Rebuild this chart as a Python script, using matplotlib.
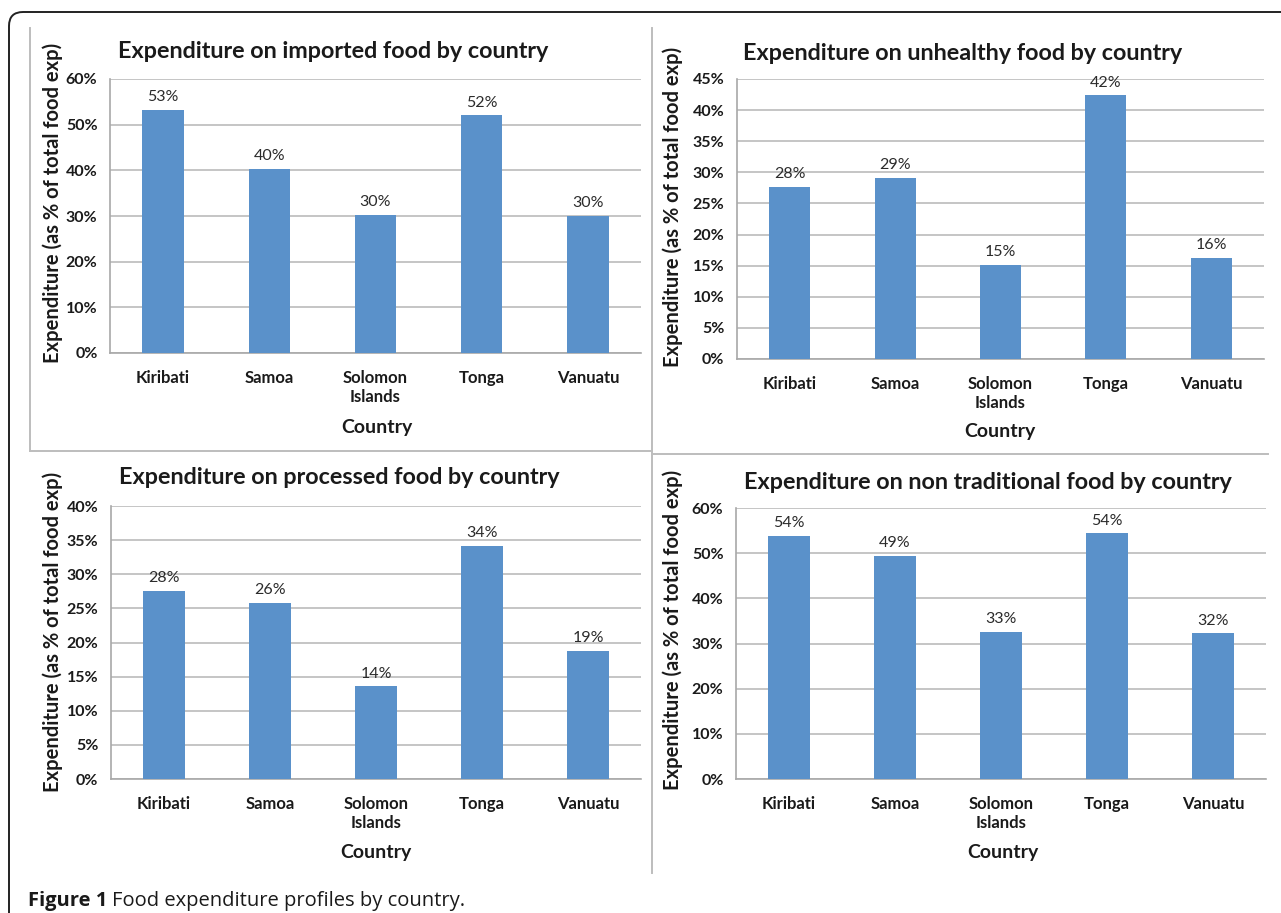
import matplotlib
matplotlib.use("Agg")
import matplotlib.pyplot as plt
from matplotlib.lines import Line2D
from matplotlib.patches import FancyBboxPatch
from matplotlib.ticker import PercentFormatter, MultipleLocator

W, H = 1281, 913

countries = ["Kiribati", "Samoa", "Solomon\nIslands", "Tonga", "Vanuatu"]

imported = [53.2, 40.4, 30.3, 52.1, 30.1]
unhealthy = [27.7, 29.1, 15.1, 42.4, 16.3]
processed = [27.6, 25.8, 13.6, 34.2, 18.8]
non_traditional = [53.8, 49.4, 32.6, 54.4, 32.3]

titles = [
    "Expenditure on imported food by country",
    "Expenditure on unhealthy food by country",
    "Expenditure on processed food by country",
    "Expenditure on non traditional food by country",
]
y_max = [60, 45, 40, 60]
y_step = [10, 5, 5, 10]

BAR = "#5A91CA"
GRID = "#C0C0C0"
TXT = "#1a1a1a"
FONT = "Lato"

plt.rcParams["font.family"] = [FONT, "DejaVu Sans"]


def fx(x):
    return x / W


def fy(y):
    return 1 - y / H


def rect(x0, x1, y0, y1):
    return [fx(x0), fy(y1), fx(x1) - fx(x0), fy(y0) - fy(y1)]


fig = plt.figure(figsize=(W / 100, H / 100), dpi=100)

# axes boxes in pixels: x0, x1, ytop, ybottom
boxes = [(110, 641, 79, 353), (737, 1264, 79, 359),
         (111, 641, 506, 779), (736, 1266, 508, 779)]
# title, y-label and x-label centres in pixels
title_pos = [(333, 52), (963, 53), (339, 478), (988, 482)]
ylab_pos = [(53, 203), (673, 207), (53, 632), (673, 630)]
xlab_pos = [(377, 427), (1000, 432), (376, 852), (1003, 852)]

series = [imported, unhealthy, processed, non_traditional]

for i, vals in enumerate(series):
    x0, x1, y0, y1 = boxes[i]
    ax = fig.add_axes(rect(x0, x1, y0, y1))
    pos = range(len(countries))
    bars = ax.bar(pos, vals, width=0.39, color=BAR, zorder=3)
    for b, v in zip(bars, vals):
        ax.annotate(f"{v:.0f}%", (b.get_x() + b.get_width() / 2, v),
                    xytext=(0, 4), textcoords="offset points",
                    ha="center", va="bottom", fontsize=11.5, color="#2b2b2b")
    ax.set_xlim(-0.5, len(countries) - 0.5)
    ax.set_ylim(0, y_max[i])
    ax.yaxis.set_major_locator(MultipleLocator(y_step[i]))
    ax.yaxis.set_major_formatter(PercentFormatter(decimals=0))
    ax.set_xticks(list(pos))
    ax.set_xticklabels(countries, fontsize=12, fontweight="bold",
                       color=TXT, linespacing=1.25)
    ax.tick_params(axis="x", length=0, pad=12)
    ax.tick_params(axis="y", length=0, pad=9)
    for lab in ax.get_yticklabels():
        lab.set_fontsize(11.5)
        lab.set_fontweight("bold")
        lab.set_color(TXT)
    ax.grid(axis="y", color=GRID, linewidth=1.3, zorder=0)
    for s in ["top", "right"]:
        ax.spines[s].set_visible(False)
    for s in ["left", "bottom"]:
        ax.spines[s].set_color("#A8A8A8")
        ax.spines[s].set_linewidth(1.2)

    tx, ty = title_pos[i]
    fig.text(fx(tx), fy(ty), titles[i], ha="center", va="center",
             fontsize=16.8, fontweight="bold", color=TXT)
    lx, ly = ylab_pos[i]
    fig.text(fx(lx), fy(ly), "Expenditure (as % of total food exp)",
             rotation=90, ha="center", va="center", fontsize=14.5,
             fontweight="bold", color=TXT)
    cx, cy = xlab_pos[i]
    fig.text(fx(cx), fy(cy), "Country", ha="center", va="center",
             fontsize=14, fontweight="bold", color=TXT)

# panel separators
sep = dict(color="#BDBDBD", linewidth=1.4, transform=fig.transFigure)
fig.add_artist(Line2D([fx(30), fx(30)], [fy(28), fy(451)], **sep))
fig.add_artist(Line2D([fx(30), fx(652)], [fy(451), fy(451)], **sep))
fig.add_artist(Line2D([fx(652), fx(652)], [fy(28), fy(873)], **sep))
fig.add_artist(Line2D([fx(652), fx(1268)], [fy(454), fy(454)], **sep))

# outer frame with rounded corner, running off the right and bottom edges
frame = FancyBboxPatch((9 / 100, -1.0), 14.0, (H - 12) / 100 + 1.0,
                       boxstyle="round,pad=0,rounding_size=0.14",
                       transform=fig.dpi_scale_trans, fill=False,
                       edgecolor="#222222", linewidth=1.4)
fig.add_artist(frame)

# caption
cap1 = fig.text(fx(28), fy(901), "Figure 1", ha="left", va="center",
                fontsize=14.5, fontweight="bold", family="Open Sans",
                color=TXT)
renderer = fig.canvas.get_renderer()
bb = cap1.get_window_extent(renderer)
fig.text(bb.x1 / W + fx(5), fy(901), "Food expenditure profiles by country.",
         ha="left", va="center", fontsize=14.5, fontweight="medium",
         family="Open Sans", color=TXT)

fig.savefig("out.png", dpi=100)
